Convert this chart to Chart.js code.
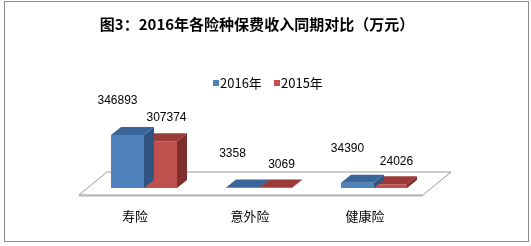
<!DOCTYPE html>
<html><head><meta charset="utf-8">
<script src="https://cdn.jsdelivr.net/npm/chart.js@4/dist/chart.umd.min.js"></script>
<style>html,body{margin:0;padding:0;background:#fff}canvas{display:block}</style>
</head><body>
<canvas id="c" width="531" height="246"></canvas>
<script>
const categories = ['寿险', '意外险', '健康险'];
const seriesNames = ['2016年', '2015年'];
const values2016 = [346893, 3358, 34390];
const values2015 = [307374, 3069, 24026];
const titleText = '图3：2016年各险种保费收入同期对比（万元）';
const valueMax = 400000;

const palette = {
  front: ['#4F81BD', '#C0504D'],
  top: ['#3A659A', '#9A3B39'],
  side: ['#30547F', '#7E2F2D']
};
const DX = 10, DY = 8;
const labelOffset = [{dx: -10, dy: -34}, {dx: 6, dy: -23}];
const CJK = '"Noto Sans CJK SC", "Noto Sans", sans-serif';

const decor = {
  id: 'decor',
  beforeDraw(chart) {
    const ctx = chart.ctx;
    ctx.save();
    ctx.fillStyle = '#fff';
    ctx.fillRect(0, 0, chart.width, chart.height);
    ctx.strokeStyle = '#8C8C8C';
    ctx.lineWidth = 1;
    ctx.strokeRect(4.5, 1.5, 524, 240);
    ctx.fillStyle = '#000';
    ctx.font = 'bold 15px ' + CJK;
    ctx.textAlign = 'center';
    ctx.textBaseline = 'middle';
    ctx.fillText(titleText, 257, 24);
    // legend
    ctx.font = '13px ' + CJK;
    ctx.textAlign = 'left';
    let x = 213;
    seriesNames.forEach((n, i) => {
      ctx.fillStyle = palette.front[i];
      ctx.fillRect(x, 80, 6, 6);
      ctx.fillStyle = '#000';
      ctx.fillText(n, x + 7, 83.5);
      x += 61;
    });
    ctx.restore();
  },
  beforeDatasetsDraw(chart) {
    const ctx = chart.ctx, a = chart.chartArea;
    const fy = a.bottom + 7, by = a.bottom - 16;
    const fl = a.left - 7.5, fr = a.right - 8.5;
    const ox = 28;
    ctx.save();
    // floor thickness
    ctx.fillStyle = '#D9D9D9';
    ctx.fillRect(fl, fy, fr - fl, 2);
    ctx.beginPath();
    ctx.moveTo(fl, fy); ctx.lineTo(fl + ox, by); ctx.lineTo(fr + ox, by); ctx.lineTo(fr, fy); ctx.closePath();
    ctx.fillStyle = '#fff';
    ctx.fill();
    ctx.strokeStyle = '#9A9A9A';
    ctx.lineWidth = 1;
    ctx.stroke();
    ctx.restore();
  },
  afterDatasetDraw(chart, args) {
    const i = args.index;
    const ctx = chart.ctx;
    const meta = chart.getDatasetMeta(i);
    ctx.save();
    meta.data.forEach(bar => {
      const p = bar.getProps(['x', 'y', 'base', 'width'], true);
      const l = p.x - p.width / 2, r = p.x + p.width / 2;
      // side
      ctx.fillStyle = palette.side[i];
      ctx.beginPath();
      ctx.moveTo(r, p.y); ctx.lineTo(r + DX, p.y - DY); ctx.lineTo(r + DX, p.base - DY); ctx.lineTo(r, p.base); ctx.closePath();
      ctx.fill();
      // top
      ctx.fillStyle = palette.top[i];
      ctx.beginPath();
      ctx.moveTo(l, p.y); ctx.lineTo(l + DX, p.y - DY); ctx.lineTo(r + DX, p.y - DY); ctx.lineTo(r, p.y); ctx.closePath();
      ctx.fill();
    });
    ctx.restore();
  },
  afterDatasetsDraw(chart) {
    const ctx = chart.ctx;
    ctx.save();
    ctx.fillStyle = '#000';
    ctx.font = '12px "Liberation Sans", Arial, sans-serif';
    ctx.textAlign = 'center';
    ctx.textBaseline = 'middle';
    chart.data.datasets.forEach((ds, i) => {
      chart.getDatasetMeta(i).data.forEach((bar, j) => {
        const p = bar.getProps(['x', 'y'], true);
        ctx.fillText(String(ds.data[j]), p.x + labelOffset[i].dx, p.y + labelOffset[i].dy);
      });
    });
    ctx.restore();
  }
};

new Chart(document.getElementById('c'), {
  type: 'bar',
  data: {
    labels: categories,
    datasets: [
      {label: seriesNames[0], data: values2016, backgroundColor: palette.front[0]},
      {label: seriesNames[1], data: values2015, backgroundColor: palette.front[1]}
    ]
  },
  options: {
    responsive: false,
    animation: false,
    devicePixelRatio: 1,
    layout: {padding: {top: 127, left: 86.5, right: 99.5, bottom: 0}},
    categoryPercentage: 66 / 115,
    barPercentage: 1,
    plugins: {legend: {display: false}, title: {display: false}, tooltip: {enabled: false}},
    scales: {
      x: {
        grid: {display: false, drawTicks: false},
        border: {display: false},
        ticks: {color: '#000', font: {family: CJK, size: 13}, padding: 20, labelOffset: -9},
        afterFit(scale) { scale.height = 58; }
      },
      y: {display: false, min: 0, max: valueMax}
    }
  },
  plugins: [decor]
});
</script>
</body></html>
